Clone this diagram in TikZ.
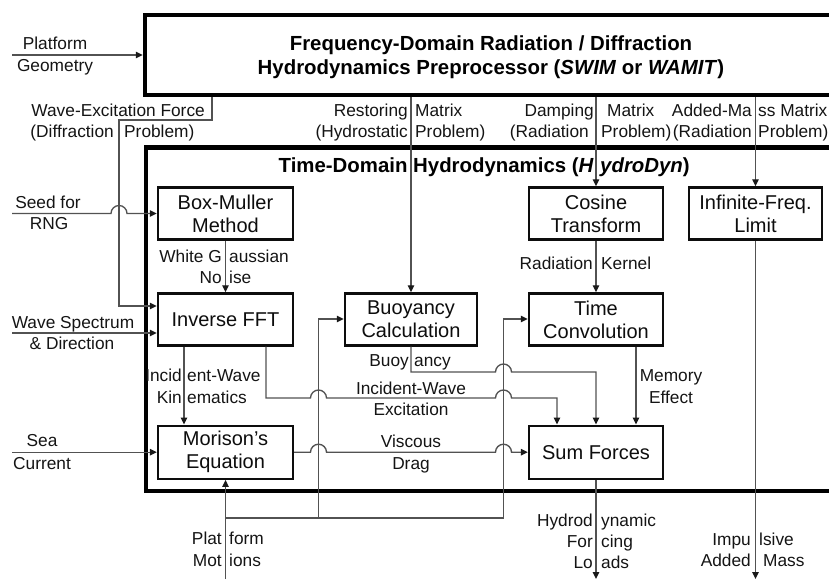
\documentclass[tikz,border=0pt]{standalone}
\usepackage{fontspec}
\setmainfont{Liberation Sans}
\usetikzlibrary{arrows.meta}
\begin{document}
\begin{tikzpicture}[x=1pt,y=-1pt,
  outerbox/.style={draw=black, line width=4.5pt, inner sep=0pt},
  procbox/.style={draw=black!95, line width=2.4pt, fill=white, inner sep=0pt, align=center, font=\fontsize{20}{23}\selectfont, text=black!95},
  lbl/.style={inner sep=0pt, font=\fontsize{17.3}{21}\selectfont, text=black!92},
  ttl/.style={inner sep=0pt, font=\bfseries\fontsize{20.4}{23}\selectfont, text=black},
  conn/.style={draw=black!68, line width=1.35pt},
  arr/.style={conn, -{Triangle[length=7pt,width=6.5pt,color=black!90]}},
]
\useasboundingbox (0,0) rectangle (829,579);
\clip (0,0) rectangle (829,579);

% outer boxes
\node[outerbox, minimum width=720pt, minimum height=80pt] (pre) at (505,55) {};
\node[outerbox, minimum width=719pt, minimum height=343.5pt] (td) at (505.5,319.3) {};

% titles
\node[ttl, anchor=base] (t1) at (491,50.6) {Frequency-Domain Radiation / Diffraction};
\node[ttl, anchor=base] (t2) at (491,74) {Hydrodynamics Preprocessor (\textit{SWIM} or \textit{WAMIT})};
\node[ttl, anchor=base east] (t3a) at (594,172) {Time-Domain Hydrodynamics (\textit{H}};
\node[ttl, anchor=base west] (t3b) at (600,172) {\textit{ydroDyn})};

% free ends
\coordinate (geoin) at (12,55);
\coordinate (seedin) at (12,213.5);
\coordinate (specin) at (12,333);
\coordinate (seain) at (12,452.2);
\coordinate (motin) at (225.5,579);
\coordinate (hydout) at (596,579);
\coordinate (impout) at (755.5,579);

% process boxes
\node[procbox, minimum width=135pt, minimum height=52pt] (bm) at (225.5,213.5) {Box-Muller\\Method};
\node[procbox, minimum width=135pt, minimum height=52pt] (ifft) at (225.5,319.5) {Inverse FFT};
\node[procbox, minimum width=135pt, minimum height=53pt] (morison) at (225.5,452.2) {Morison's\\Equation};
\node[procbox, minimum width=132pt, minimum height=52pt] (buoy) at (411,319.5) {Buoyancy\\Calculation};
\node[procbox, minimum width=134pt, minimum height=52pt] (cos) at (596,213.5) {Cosine\\Transform};
\node[procbox, minimum width=133pt, minimum height=52pt] (inf) at (755.5,213.5) {Infinite-Freq.\\Limit};
\node[procbox, minimum width=134pt, minimum height=52pt] (tconv) at (596,319.5) {Time\\Convolution};
\node[procbox, minimum width=134pt, minimum height=53pt] (sum) at (596,452.2) {Sum Forces};

% connectors
\draw[arr] (geoin) -- (pre.west);
\draw[arr] (seedin) -- (111,213.5) arc[start angle=180,end angle=0,radius=8pt] -- (bm.west);
\draw[arr] (212,0 |- pre.south) -- (212,120) -- (119,120) -- (119,306) -- (ifft.west |- 0,306);
\draw[arr] (specin) -- (ifft.west |- specin);
\draw[arr] (seain) -- (morison.west);
\draw[arr] (bm.south) -- (ifft.north);
\draw[arr] (184,0 |- ifft.south) -- (184,0 |- morison.north);
\draw[arr] (266,0 |- ifft.south) -- (266,398) -- (310.5,398) arc[start angle=180,end angle=0,radius=8pt]
  -- (495.5,398) arc[start angle=180,end angle=0,radius=8pt] -- (557,398) -- (557,0 |- sum.north);
\draw[arr] (buoy.south) -- (411,372) -- (495.5,372) arc[start angle=180,end angle=0,radius=8pt]
  -- (596,372) -- (sum.north);
\draw[arr] (636,0 |- tconv.south) -- (636,0 |- sum.north);
\draw[arr] (morison.east) -- (310.5,452.2) arc[start angle=180,end angle=0,radius=8pt]
  -- (495.5,452.2) arc[start angle=180,end angle=0,radius=8pt] -- (sum.west);
\draw[arr] (cos.south) -- (tconv.north);
\draw[arr] (buoy.north |- pre.south) -- (buoy.north);
\draw[arr] (cos.north |- pre.south) -- (cos.north);
\draw[arr] (inf.north |- pre.south) -- (inf.north);
\draw[arr] (inf.south) -- (impout);
\draw[arr] (sum.south) -- (hydout);
\draw[arr] (motin) -- (morison.south);
\draw[arr] (225.5,518) -- (503.5,518) -- (503.5,319) -- (tconv.west |- 0,319);
\draw[arr] (318.5,518) -- (318.5,319) -- (buoy.west |- 0,319);

% labels
\node[lbl, anchor=base] (lgeo1) at (55,49) {Platform};
\node[lbl, anchor=base] (lgeo2) at (55,71) {Geometry};
\node[lbl, anchor=base east] (lwe1) at (205,116) {Wave-Excitation Force};
\node[lbl, anchor=base east] (lwe2) at (114,137) {(Diffraction};
\node[lbl, anchor=base west] (lwe3) at (124,137) {Problem)};
\node[lbl, anchor=base east] (lrs1) at (408,116) {Restoring};
\node[lbl, anchor=base west] (lrs2) at (415,116) {Matrix};
\node[lbl, anchor=base east] (lrs3) at (408,137) {(Hydrostatic};
\node[lbl, anchor=base west] (lrs4) at (415,137) {Problem)};
\node[lbl, anchor=base east] (ldm1) at (594,116) {Damping};
\node[lbl, anchor=base west] (ldm2) at (607,116) {Matrix};
\node[lbl, anchor=base east] (ldm3) at (589,137) {(Radiation};
\node[lbl, anchor=base west] (ldm4) at (601,137) {Problem)};
\node[lbl, anchor=base east] (lam1) at (752,116) {Added-Ma};
\node[lbl, anchor=base west] (lam2) at (758,116) {ss Matrix};
\node[lbl, anchor=base east] (lam3) at (752,137) {(Radiation};
\node[lbl, anchor=base west] (lam4) at (758,137) {Problem)};
\node[lbl, anchor=base] (lsd1) at (48,208) {Seed for};
\node[lbl, anchor=base] (lsd2) at (49,229) {RNG};
\node[lbl, anchor=base east] (lwg1) at (222,262) {White G};
\node[lbl, anchor=base west] (lwg2) at (229,262) {aussian};
\node[lbl, anchor=base east] (lwg3) at (222,283) {No};
\node[lbl, anchor=base west] (lwg4) at (229,283) {ise};
\node[lbl, anchor=base east] (lrk1) at (593,269) {Radiation};
\node[lbl, anchor=base west] (lrk2) at (601,269) {Kernel};
\node[lbl, anchor=base] (lws1) at (73,328) {Wave Spectrum};
\node[lbl, anchor=base] (lws2) at (72,349) {\& Direction};
\node[lbl, anchor=base east] (lik1) at (182,381) {Incid};
\node[lbl, anchor=base west] (lik2) at (187,381) {ent-Wave};
\node[lbl, anchor=base east] (lik3) at (182,403) {Kin};
\node[lbl, anchor=base west] (lik4) at (187,403) {ematics};
\node[lbl, anchor=base east] (lby1) at (409,366) {Buoy};
\node[lbl, anchor=base west] (lby2) at (414,366) {ancy};
\node[lbl, anchor=base] (lie1) at (411,394) {Incident-Wave};
\node[lbl, anchor=base] (lie2) at (411,415) {Excitation};
\node[lbl, anchor=base] (lme1) at (671,381) {Memory};
\node[lbl, anchor=base] (lme2) at (671,403) {Effect};
\node[lbl, anchor=base] (lsc1) at (42,446) {Sea};
\node[lbl, anchor=base] (lsc2) at (42,469) {Current};
\node[lbl, anchor=base] (lvd1) at (411,447) {Viscous};
\node[lbl, anchor=base] (lvd2) at (411,469) {Drag};
\node[lbl, anchor=base east] (lpm1) at (222,544) {Plat};
\node[lbl, anchor=base west] (lpm2) at (229,544) {form};
\node[lbl, anchor=base east] (lpm3) at (222,566) {Mot};
\node[lbl, anchor=base west] (lpm4) at (229,566) {ions};
\node[lbl, anchor=base east] (lhf1) at (593,526) {Hydrod};
\node[lbl, anchor=base west] (lhf2) at (601,526) {ynamic};
\node[lbl, anchor=base east] (lhf3) at (593,547) {For};
\node[lbl, anchor=base west] (lhf4) at (601,547) {cing};
\node[lbl, anchor=base east] (lhf5) at (593,568) {Lo};
\node[lbl, anchor=base west] (lhf6) at (601,568) {ads};
\node[lbl, anchor=base east] (lia1) at (751,545) {Impu};
\node[lbl, anchor=base west] (lia2) at (759,545) {lsive};
\node[lbl, anchor=base east] (lia3) at (751,566) {Added};
\node[lbl, anchor=base west] (lia4) at (763,566) {Mass};
\end{tikzpicture}
\end{document}
